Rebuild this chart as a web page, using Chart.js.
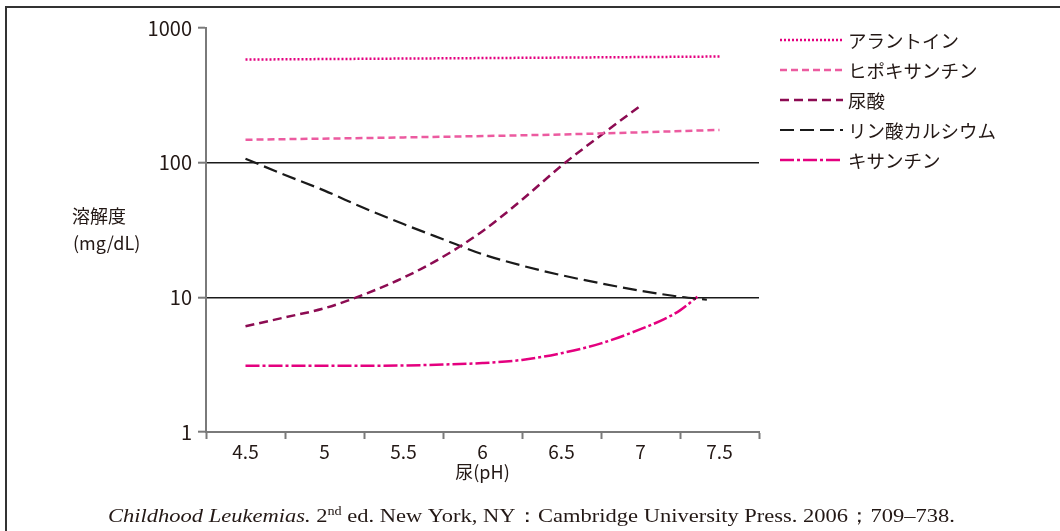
<!DOCTYPE html>
<html lang="ja">
<head>
  <meta charset="UTF-8" />
  <title>溶解度と尿pH</title>
  <script src="https://cdn.jsdelivr.net/npm/chart.js"></script>
  <style>
    html, body {
      margin: 0;
      padding: 0;
      background: #fff;
    }
    .marco {
      position: relative;
      width: 1060px;
      height: 531px;
    }
  </style>
</head>
<body>
  <div class="marco">
    <canvas id="grafico" width="1060" height="531"></canvas>
  </div>

  <script>
    // ejes
    const xTicks = [4.5, 5, 5.5, 6, 6.5, 7, 7.5];
    const yTicks = [1, 10, 100, 1000];

    // series (pH, mg/dL)
    const nombres = ["アラントイン", "ヒポキサンチン", "尿酸", "リン酸カルシウム", "キサンチン"];

    const alantoinaPH = [4.5, 5.5, 6.5, 7.5];
    const alantoinaVal = [583, 593, 603, 614];

    const hipoxantinaPH = [4.5, 5.5, 6.5, 7.5];
    const hipoxantinaVal = [148, 154, 162, 175];

    const acidoUricoPH = [4.5, 4.75, 5, 5.25, 5.5, 5.75, 6, 6.25, 6.5, 6.75, 7];
    const acidoUricoVal = [6.1, 7.1, 8.3, 10.5, 14, 20, 31, 53, 95, 160, 265];

    const fosfatoCaPH = [4.5, 4.75, 5, 5.25, 5.5, 5.75, 6, 6.25, 6.5, 6.75, 7, 7.25, 7.42];
    const fosfatoCaVal = [107, 81, 62, 46, 35, 27, 20.9, 17.2, 14.6, 12.7, 11.2, 10.1, 9.6];

    const xantinaPH = [4.5, 5, 5.5, 5.75, 6, 6.25, 6.5, 6.75, 7, 7.15, 7.25, 7.36];
    const xantinaVal = [3.1, 3.1, 3.12, 3.17, 3.25, 3.43, 3.85, 4.55, 5.8, 6.9, 8.0, 10.1];

    const colores = ["#e4007f", "#ec5ba0", "#8c0b52", "#1a1a1a", "#e4007f"];
    const guiones = [[2, 2], [7, 4], [9, 5], [14, 6], [14, 3, 3, 3]];
    const grosores = [2.5, 2.5, 2.5, 2.2, 2.5];

    const pares = (xs, ys) => xs.map((x, i) => ({ x: x, y: ys[i] }));
    const datos = [
      pares(alantoinaPH, alantoinaVal),
      pares(hipoxantinaPH, hipoxantinaVal),
      pares(acidoUricoPH, acidoUricoVal),
      pares(fosfatoCaPH, fosfatoCaVal),
      pares(xantinaPH, xantinaVal)
    ];

    const fuente = '"Noto Sans CJK JP", "Noto Sans", sans-serif';
    const colorTexto = "#231815";

    const decorado = {
      id: 'decorado',
      beforeDraw(chart) {
        const ctx = chart.ctx;
        ctx.save();
        ctx.strokeStyle = "#333";
        ctx.lineWidth = 2;
        ctx.beginPath();
        ctx.moveTo(6, 531);
        ctx.lineTo(6, 7);
        ctx.lineTo(1060, 7);
        ctx.stroke();
        ctx.restore();
      },
      afterDraw(chart) {
        const ctx = chart.ctx;
        const area = chart.chartArea;
        ctx.save();

        // leyenda
        ctx.font = '18.5px ' + fuente;
        ctx.textBaseline = 'middle';
        ctx.textAlign = 'left';
        chart.data.datasets.forEach((ds, i) => {
          const y = 40 + i * 30;
          ctx.strokeStyle = ds.borderColor;
          ctx.lineWidth = ds.borderWidth;
          ctx.setLineDash(ds.borderDash);
          ctx.beginPath();
          ctx.moveTo(780, y);
          ctx.lineTo(843, y);
          ctx.stroke();
          ctx.setLineDash([]);
          ctx.fillStyle = colorTexto;
          ctx.fillText(ds.label, 848, y + 1);
        });

        // titulos de ejes
        ctx.font = '18px ' + fuente;
        ctx.fillText("溶解度", 72, 216);
        ctx.fillText("(mg/dL)", 73, 243);
        ctx.textAlign = 'center';
        ctx.fillText("尿(pH)", (area.left + area.right) / 2, 472);

        // referencia
        const base = 522;
        const partes = [
          { t: "Childhood Leukemias.", f: 'italic 19px "Liberation Serif", serif', dy: 0 },
          { t: " 2", f: '19px "Liberation Serif", serif', dy: 0 },
          { t: "nd", f: '12px "Liberation Serif", serif', dy: -7 },
          { t: " ed. New York, NY：Cambridge University Press. 2006；709–738.", f: '19px "Liberation Serif", serif', dy: 0 }
        ];
        let ancho = 0;
        partes.forEach(p => { ctx.font = p.f; ancho += ctx.measureText(p.t).width; });
        const escala = 847 / ancho;
        ctx.translate(108, base);
        ctx.scale(escala, 1);
        ctx.textAlign = 'left';
        ctx.textBaseline = 'alphabetic';
        let x = 0;
        partes.forEach(p => {
          ctx.font = p.f;
          ctx.fillText(p.t, x, p.dy);
          x += ctx.measureText(p.t).width;
        });
        ctx.restore();
      }
    };

    new Chart(document.getElementById("grafico"), {
      type: "line",
      data: {
        datasets: datos.map((d, i) => ({
          label: nombres[i],
          data: d,
          borderColor: colores[i],
          borderDash: guiones[i],
          borderWidth: grosores[i],
          borderCapStyle: 'butt',
          pointRadius: 0,
          fill: false,
          cubicInterpolationMode: 'monotone'
        }))
      },
      options: {
        responsive: false,
        animation: false,
        layout: { padding: { left: 0, right: 301, top: 28, bottom: 0 } },
        plugins: {
          legend: { display: false },
          tooltip: { enabled: false }
        },
        scales: {
          x: {
            type: 'linear',
            min: 4.25,
            max: 7.75,
            afterBuildTicks: (s) => { s.ticks = xTicks.map(v => ({ value: v })); },
            afterFit: (s) => { s.height = 99; },
            ticks: {
              color: colorTexto,
              font: { family: fuente, size: 19 },
              padding: 1,
              maxRotation: 0,
              callback: (v) => String(v)
            },
            grid: {
              offset: true,
              drawOnChartArea: false,
              tickLength: 7,
              tickColor: "#7a7a7a",
              tickWidth: 2
            },
            border: { color: "#7a7a7a", width: 2 }
          },
          y: {
            type: 'logarithmic',
            min: 1,
            max: 1000,
            afterBuildTicks: (s) => { s.ticks = yTicks.map(v => ({ value: v, major: true })); },
            afterFit: (s) => { s.width = 206; },
            ticks: {
              color: colorTexto,
              font: { family: fuente, size: 20 },
              padding: 6,
              callback: (v) => String(v)
            },
            grid: {
              color: (c) => (c.tick && (c.tick.value === 10 || c.tick.value === 100)) ? "#1a1a1a" : "rgba(0,0,0,0)",
              lineWidth: 1.4,
              tickLength: 8,
              tickColor: "#7a7a7a",
              tickWidth: 2
            },
            border: { color: "#7a7a7a", width: 2 }
          }
        }
      },
      plugins: [decorado]
    });
  </script>
</body>
</html>
